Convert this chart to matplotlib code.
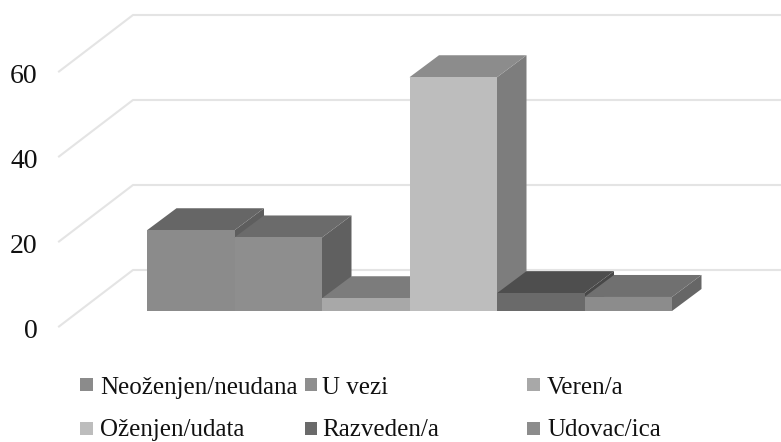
import matplotlib
matplotlib.use('Agg')
import matplotlib.pyplot as plt
from matplotlib.patches import Polygon, Rectangle

plt.rcParams['font.family'] = ['Liberation Serif', 'DejaVu Serif']

# podaci
categories = ['Neoženjen/neudana', 'U vezi', 'Veren/a',
              'Oženjen/udata', 'Razveden/a', 'Udovac/ica']
values = [19.0, 17.3, 3.0, 55.0, 4.2, 3.3]
ticks = [0, 20, 40, 60]

# boje stubova: prednja strana, gornja, bocna
front_colors = ['#8b8b8b', '#8e8e8e', '#a8a8a8', '#bdbdbd', '#6a6a6a', '#8c8c8c']
top_colors = ['#666666', '#6b6b6b', '#7c7c7c', '#8c8c8c', '#4e4e4e', '#707070']
side_colors = ['#5e5e5e', '#606060', '#6e6e6e', '#7d7d7d', '#484848', '#666666']
legend_colors = ['#8b8b8b', '#8e8e8e', '#a8a8a8', '#bdbdbd', '#6a6a6a', '#8c8c8c']
legend_x = [80, 304.5, 527]
legend_text_x = [100, 322, 547]
legend_base = [394, 436]
legend_box = [378, 422]

W, H = 781, 442
BAR_W = 87.5     # px po kategoriji
UNIT = 4.25      # px po jedinici vrednosti
X0, Y0 = 147, 311

fig = plt.figure(figsize=(W / 100, H / 100), dpi=100)
ax = fig.add_axes([0, 0, 1, 1])
ax.set_xlim(-X0 / BAR_W, (W - X0) / BAR_W)
ax.set_ylim((Y0 - H) / UNIT, Y0 / UNIT)
ax.axis('off')

# dubina stuba i zida
dx, dy = 29.5 / BAR_W, 22 / UNIT
wall_x0, wall_x1 = (59 - X0) / BAR_W, (133 - X0) / BAR_W
wall_front, wall_back = -15.5 / UNIT, 41 / UNIT

# mreza na zidovima
for t in ticks:
    ax.plot([wall_x0, wall_x1, ax.get_xlim()[1]],
            [t + wall_front, t + wall_back, t + wall_back],
            color='#e4e4e4', lw=1.5, solid_joinstyle='round', zorder=1)
    ax.text((37.5 - X0) / BAR_W, t - 27 / UNIT, str(t),
            ha='right', va='baseline', fontsize=20, color='#111111')

# stubovi, sleva nadesno da sledeci prekrije prethodni
for i, v in enumerate(values):
    ax.add_patch(Polygon([(i + 1, 0), (i + 1 + dx, dy), (i + 1 + dx, v + dy), (i + 1, v)],
                         fc=side_colors[i], ec='none', zorder=2 + i))
    ax.add_patch(Polygon([(i, v), (i + dx, v + dy), (i + 1 + dx, v + dy), (i + 1, v)],
                         fc=top_colors[i], ec='none', zorder=2 + i))
    ax.add_patch(Rectangle((i, 0), 1, v, fc=front_colors[i], ec='none', zorder=2 + i))

# legenda u dva reda po tri
for i, name in enumerate(categories):
    row, col = i // 3, i % 3
    fig.patches.append(Rectangle((legend_x[col] / W, 1 - (legend_box[row] + 12.5) / H),
                                 12.5 / W, 12.5 / H,
                                 transform=fig.transFigure, fc=legend_colors[i], ec='none'))
    fig.text(legend_text_x[col] / W, 1 - legend_base[row] / H, name,
             ha='left', va='baseline', fontsize=18, color='#111111')

fig.savefig('out.png', dpi=100)
